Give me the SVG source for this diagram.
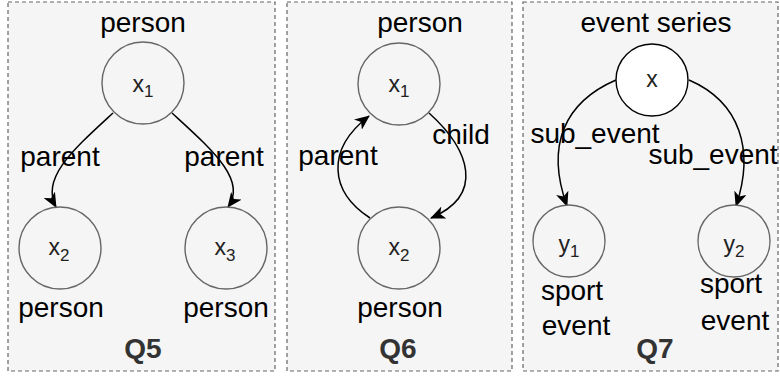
<svg xmlns="http://www.w3.org/2000/svg" width="780" height="376" viewBox="0 0 780 376">
<style>
.panel{fill:#f5f5f5;stroke:#666;stroke-width:1.2;stroke-dasharray:4 3}
.node{fill:#f5f5f5;stroke:#666;stroke-width:1.4}
.nodeb{fill:#fff;stroke:#000;stroke-width:1.4}
.edge{fill:none;stroke:#000;stroke-width:1.5;marker-end:url(#arr)}
.lbl{font-family:"Liberation Sans",Arial,Helvetica,sans-serif;font-size:28px;fill:#000;text-anchor:middle}
.nt{font-family:"Liberation Sans",Arial,Helvetica,sans-serif;font-size:23px;fill:#222;text-anchor:middle}
.sub{font-size:17px}
.q{font-family:"Liberation Sans",Arial,Helvetica,sans-serif;font-size:28px;font-weight:bold;fill:#333;text-anchor:middle}
</style>
<defs>
<marker id="arr" markerUnits="userSpaceOnUse" viewBox="0 0 15 13" refX="14" refY="6.5" markerWidth="15" markerHeight="13" orient="auto">
<path d="M0,0 L15,6.5 L0,13 L4,6.5 Z" fill="#000"/>
</marker>
</defs>
<g id="panels">
<rect id="panel-q5" class="panel" x="8" y="2" width="267" height="369"/>
<rect id="panel-q6" class="panel" x="287" y="2" width="225" height="369"/>
<rect id="panel-q7" class="panel" x="523" y="2" width="255" height="369"/>
</g>
<g id="connectors">
<path class="edge" d="M113,113 C75,148 40,178 56,207"/>
<path class="edge" d="M172,113 C210,148 248,180 228,207"/>
<path class="edge" d="M429,113 C470,150 485,195 431,218"/>
<path class="edge" d="M370,218 C330,192 325,150 369,116"/>
<path class="edge" d="M616,80 C565,102 545,145 567,206"/>
<path class="edge" d="M689,80 C740,102 755,150 736,206"/>
</g>
<g id="q5-x1">
<circle class="node" cx="143" cy="83" r="41"/>
<text class="nt" x="143" y="92">x<tspan class="sub" dy="5">1</tspan></text>
<text class="lbl" x="143" y="32">person</text>
</g>
<g id="q5-x2">
<circle class="node" cx="60" cy="248" r="41"/>
<text class="nt" x="59" y="255">x<tspan class="sub" dy="6">2</tspan></text>
<text class="lbl" x="61" y="317">person</text>
</g>
<g id="q5-x3">
<circle class="node" cx="226" cy="248" r="41"/>
<text class="nt" x="225" y="255">x<tspan class="sub" dy="6">3</tspan></text>
<text class="lbl" x="226" y="317">person</text>
</g>
<g id="q5-labels">
<text class="lbl" x="60" y="166">parent</text>
<text class="lbl" x="224" y="166">parent</text>
<text class="q" x="143" y="358">Q5</text>
</g>
<g id="q6-x1">
<circle class="node" cx="399" cy="84" r="41"/>
<text class="nt" x="399" y="92">x<tspan class="sub" dy="5">1</tspan></text>
<text class="lbl" x="420" y="32">person</text>
</g>
<g id="q6-x2">
<circle class="node" cx="399" cy="248" r="41"/>
<text class="nt" x="399" y="255">x<tspan class="sub" dy="6">2</tspan></text>
<text class="lbl" x="400" y="317">person</text>
</g>
<g id="q6-labels">
<text class="lbl" x="461" y="144">child</text>
<text class="lbl" x="338" y="165">parent</text>
<text class="q" x="398" y="358">Q6</text>
</g>
<g id="q7-x">
<circle class="nodeb" cx="652" cy="80" r="36"/>
<text class="nt" x="652" y="87">x</text>
<text class="lbl" x="656" y="32">event series</text>
</g>
<g id="q7-y1">
<circle class="node" cx="569" cy="241" r="36"/>
<text class="nt" x="569" y="252">y<tspan class="sub" dy="5">1</tspan></text>
<text class="lbl" x="572" y="300">sport</text>
<text class="lbl" x="576" y="335">event</text>
</g>
<g id="q7-y2">
<circle class="node" cx="734" cy="241" r="36"/>
<text class="nt" x="734" y="252">y<tspan class="sub" dy="5">2</tspan></text>
<text class="lbl" x="731" y="293">sport</text>
<text class="lbl" x="735" y="330">event</text>
</g>
<g id="q7-labels">
<text class="lbl" x="595" y="143">sub_event</text>
<text class="lbl" x="713" y="164">sub_event</text>
<text class="q" x="655" y="358">Q7</text>
</g>
</svg>
